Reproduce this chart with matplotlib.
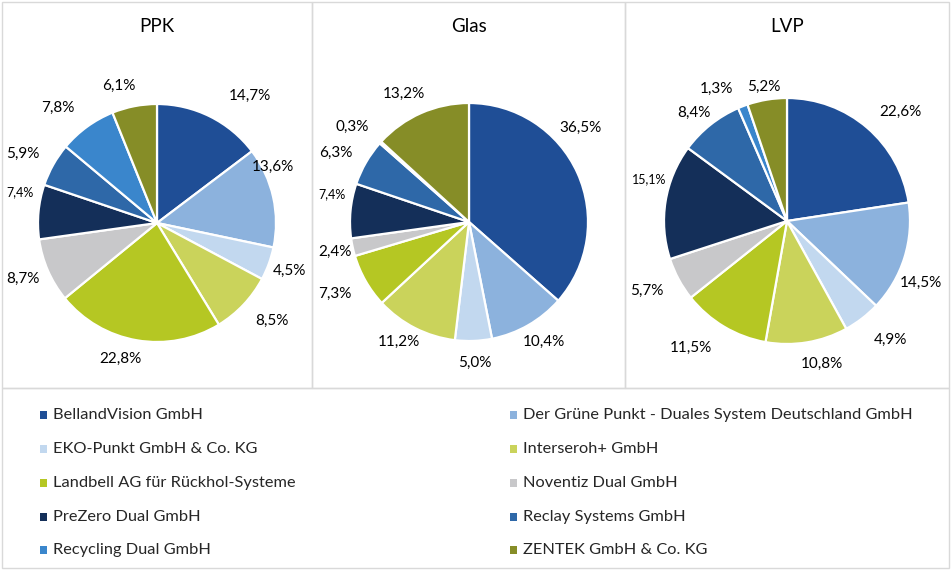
import matplotlib
matplotlib.use("Agg")
import matplotlib.pyplot as plt
from matplotlib.patches import Rectangle

plt.rcParams["font.family"] = ["Lato", "DejaVu Sans"]

companies = [
    "BellandVision GmbH",
    "Der Grüne Punkt - Duales System Deutschland GmbH",
    "EKO-Punkt GmbH & Co. KG",
    "Interseroh+ GmbH",
    "Landbell AG für Rückhol-Systeme",
    "Noventiz Dual GmbH",
    "PreZero Dual GmbH",
    "Reclay Systems GmbH",
    "Recycling Dual GmbH",
    "ZENTEK GmbH & Co. KG",
]
colors = ["#1F4E96", "#8CB2DD", "#C2D8EF", "#CAD35B", "#B5C723",
          "#C8C8CA", "#142F59", "#2E68A8", "#3A86CC", "#868D27"]

titles = ["PPK", "Glas", "LVP"]
ppk = [14.7, 13.6, 4.5, 8.5, 22.8, 8.7, 7.4, 5.9, 7.8, 6.1]
glas = [36.5, 10.4, 5.0, 11.2, 7.3, 2.4, 7.4, 6.3, 0.3, 13.2]
lvp = [22.6, 14.5, 4.9, 10.8, 11.5, 5.7, 15.1, 8.4, 1.3, 5.2]

# layout in pixels (figure is 951 x 570)
W, H = 951, 570
centers = [(157, 223), (469, 222), (787, 221)]
radii = [119, 119, 123]
# label centres relative to pie centre, in radius units (Excel "best fit")
label_pos = [
    [(0.78, 1.07), (0.97, 0.47), (1.11, -0.40), (0.97, -0.82), (-0.31, -1.14),
     (-1.13, -0.47), (-1.15, 0.26), (-1.13, 0.58), (-0.83, 0.97), (-0.32, 1.15)],
    [(0.94, 0.79), (0.63, -1.01), (0.05, -1.18), (-0.59, -1.01), (-1.13, -0.60),
     (-1.13, -0.25), (-1.15, 0.23), (-1.12, 0.58), (-0.98, 0.80), (-0.55, 1.08)],
    [(0.92, 0.89), (1.09, -0.50), (0.84, -0.97), (0.28, -1.16), (-0.78, -1.03),
     (-1.14, -0.57), (-1.12, 0.34), (-0.76, 0.88), (-0.57, 1.07), (-0.19, 1.09)],
]
small_labels = [{6}, {6}, {6}]


def fx(x):
    return x / W


def fy(y):
    return 1 - y / H


fig = plt.figure(figsize=(W / 100, H / 100), dpi=100)
fig.patch.set_facecolor("white")

border = "#D9D9D9"
for x0, x1 in [(2, 312), (312, 625), (625, 949)]:
    fig.add_artist(Rectangle((fx(x0), fy(388)), fx(x1) - fx(x0), fy(2) - fy(388),
                             transform=fig.transFigure, fill=False,
                             edgecolor=border, linewidth=1))
fig.add_artist(Rectangle((fx(2), fy(568)), fx(949) - fx(2), fy(388) - fy(568),
                         transform=fig.transFigure, fill=False,
                         edgecolor=border, linewidth=1))

for i, values in enumerate([ppk, glas, lvp]):
    cx, cy = centers[i]
    r = radii[i]
    span = 1.5
    ax = fig.add_axes([fx(cx - span * r), fy(cy + span * r),
                       2 * span * r / W, 2 * span * r / H])
    ax.pie(values, colors=colors, startangle=90, counterclock=False, radius=1,
           wedgeprops=dict(edgecolor="white", linewidth=1.6))
    ax.set_xlim(-span, span)
    ax.set_ylim(-span, span)
    ax.axis("off")
    for j, v in enumerate(values):
        lx, ly = label_pos[i][j]
        size = 9.0 if j in small_labels[i] else 11
        ax.text(lx, ly, f"{v:.1f}%".replace(".", ","), ha="center", va="center",
                fontsize=size, color="#000000", clip_on=False)
    fig.text(fx(cx), fy(27), titles[i], ha="center", va="center",
             fontsize=13.5, color="#000000")

# legend, row-wise in two columns
rows_y = [415, 449, 483, 517, 550]
col_x = [40, 510]
for k, name in enumerate(companies):
    x = col_x[k % 2]
    y = rows_y[k // 2]
    fig.add_artist(Rectangle((fx(x), fy(y + 4)), 7 / W, 8 / H,
                             transform=fig.transFigure, facecolor=colors[k],
                             edgecolor="none"))
    fig.text(fx(x + 13), fy(y), name, ha="left", va="center",
             fontsize=11.8, color="#262626")

fig.savefig("out.png", dpi=100)
